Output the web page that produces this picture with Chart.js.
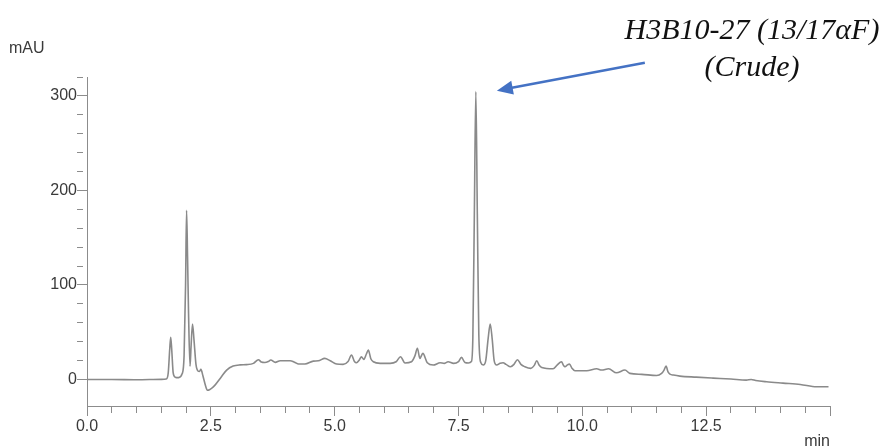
<!DOCTYPE html>
<html>
<head>
<meta charset="utf-8">
<title>H3B10-27 crude chromatogram</title>
<script src="https://cdn.jsdelivr.net/npm/chart.js@4/dist/chart.umd.min.js"></script>
<style>
  body { margin: 0; background: #fff; }
  #wrap { width: 889px; height: 448px; }
</style>
</head>
<body>
<div id="wrap"><canvas id="chrom" width="889" height="448"></canvas></div>
<script>
// retention time (min) and absorbance (mAU)
const retentionTime = [
  0.00, 0.50, 1.00, 1.50, 1.60, 1.64, 1.67, 1.69, 1.71, 1.74, 1.78, 1.85, 1.92,
  1.96, 1.99, 2.01, 2.03, 2.05, 2.08, 2.10, 2.13, 2.16, 2.20, 2.24, 2.27, 2.30,
  2.34, 2.39, 2.43, 2.55, 2.70, 2.82, 2.95, 3.09, 3.22, 3.36, 3.46, 3.52, 3.59,
  3.66, 3.71, 3.80, 3.90, 4.10, 4.20, 4.27, 4.40, 4.57, 4.67, 4.80, 4.91, 5.04,
  5.17, 5.27, 5.34, 5.40, 5.44, 5.50, 5.54, 5.59, 5.64, 5.68, 5.73, 5.78, 5.92,
  6.12, 6.24, 6.33, 6.42, 6.55, 6.62, 6.67, 6.72, 6.78, 6.87, 6.99, 7.13, 7.21,
  7.29, 7.40, 7.50, 7.56, 7.63, 7.70, 7.76, 7.79, 7.82, 7.85, 7.88, 7.91, 7.95,
  8.00, 8.05, 8.10, 8.14, 8.18, 8.22, 8.27, 8.34, 8.40, 8.46, 8.55, 8.62, 8.69,
  8.76, 8.84, 8.96, 9.03, 9.08, 9.13, 9.18, 9.41, 9.49, 9.58, 9.62, 9.65, 9.70,
  9.74, 9.79, 9.85, 10.09, 10.29, 10.39, 10.53, 10.69, 10.86, 10.96, 11.20, 11.50,
  11.60, 11.65, 11.69, 11.73, 11.77, 11.84, 11.97, 12.30, 12.64, 13.00, 13.31,
  13.41, 13.50, 13.72, 14.05, 14.40, 14.73, 14.97
];
const absorbance = [
  0, 0, -0.3, 0.2, 0.5, 7, 32, 44.7, 32, 7, 2.5, 2, 6,
  25, 100, 179, 130, 70, 14, 34, 58.8, 42, 16, 9, 8.5, 10.7,
  4, -6, -11.3, -7.7, 2, 10, 14.2, 15.5, 15.8, 17.1, 21, 18.5, 18,
  19, 20.6, 18.1, 19.9, 19.9, 18, 16.4, 16.4, 19.5, 19.8, 22.4, 19.9, 16.4,
  16, 19, 25.9, 19, 17.7, 21, 24.1, 21.3, 27, 31.2, 22, 18.8, 17.1,
  17.1, 18.8, 24.1, 17.5, 18.8, 25, 33, 22.4, 27.7, 17.7, 15.3, 17.7, 17.1,
  18.8, 17.1, 19, 23.4, 18, 17.5, 19, 45, 175, 304.5, 175, 48, 18,
  15.3, 20, 44, 58.8, 43, 20, 15.3, 17.1, 17.7, 16, 13.5, 16, 21,
  16, 13.5, 11.8, 15, 19.9, 15, 12.8, 11.4, 15.3, 18.8, 15, 13.5, 15.5,
  16.4, 12, 9.3, 9.3, 11.4, 10, 11.4, 7.1, 10, 6.5, 5.5, 4.3,
  6.5, 10, 14.2, 8, 5.7, 4.7, 3.6, 2.5, 1.5, 0.5, -0.6,
  0.1, -1, -2.4, -3.8, -5.2, -7.7, -7.7
];

const xLabelValues = [0, 2.5, 5, 7.5, 10, 12.5];
const yLabelValues = [0, 100, 200, 300];
const peakName = ["H3B10-27 (13/17\u03b1F)", "(Crude)"];

const points = retentionTime.map((t, i) => ({ x: t, y: absorbance[i] }));

const axisGray = "#8c8c8c";
const labelColor = "#3a3a3a";
const tickFont = { family: "'Liberation Sans', Arial, sans-serif", size: 16 };

const extras = {
  id: "extras",
  afterDraw(chart) {
    const ctx = chart.ctx;
    const area = chart.chartArea;
    const xs = chart.scales.x;
    const ys = chart.scales.y;
    ctx.save();

    // axis units
    ctx.fillStyle = labelColor;
    ctx.font = "16px 'Liberation Sans', Arial, sans-serif";
    ctx.textBaseline = "middle";
    ctx.textAlign = "left";
    ctx.fillText("mAU", 9, 49);
    ctx.textAlign = "right";
    ctx.fillText("min", area.right, 442);

    // arrow to the main peak
    let top = 0;
    absorbance.forEach((v, i) => { if (v > absorbance[top]) top = i; });
    const px = xs.getPixelForValue(retentionTime[top]);
    const py = ys.getPixelForValue(absorbance[top]);
    const tipX = px + 21, tipY = py - 1;
    const tailX = px + 169, tailY = py - 29;
    const dx = tipX - tailX, dy = tipY - tailY;
    const len = Math.hypot(dx, dy);
    const ux = dx / len, uy = dy / len;
    const headLen = 16, headHalf = 7;
    const bx = tipX - ux * headLen, by = tipY - uy * headLen;
    ctx.strokeStyle = "#4472c4";
    ctx.fillStyle = "#4472c4";
    ctx.lineWidth = 2.5;
    ctx.beginPath();
    ctx.moveTo(tailX, tailY);
    ctx.lineTo(bx + ux * 2, by + uy * 2);
    ctx.stroke();
    ctx.beginPath();
    ctx.moveTo(tipX, tipY);
    ctx.lineTo(bx - uy * headHalf, by + ux * headHalf);
    ctx.lineTo(bx + uy * headHalf, by - ux * headHalf);
    ctx.closePath();
    ctx.fill();

    // peak label
    ctx.fillStyle = "#111";
    ctx.font = "italic 30px 'Liberation Serif', 'Times New Roman', serif";
    ctx.textAlign = "center";
    ctx.textBaseline = "alphabetic";
    ctx.fillText(peakName[0], 752, 39);
    ctx.fillText(peakName[1], 752, 76);
    ctx.restore();
  }
};

const ctx = document.getElementById("chrom").getContext("2d");
new Chart(ctx, {
  type: "line",
  data: {
    datasets: [{
      label: "UV",
      data: points,
      borderColor: "#8a8a8a",
      borderWidth: 1.6,
      pointRadius: 0,
      fill: false,
      cubicInterpolationMode: "monotone"
    }]
  },
  options: {
    responsive: false,
    animation: false,
    layout: { padding: { top: 77, right: 59, left: 0, bottom: 0 } },
    plugins: { legend: { display: false }, tooltip: { enabled: false } },
    scales: {
      x: {
        type: "linear",
        min: 0,
        max: 15,
        afterFit: (s) => { s.height = 42; },
        afterBuildTicks: (s) => {
          s.ticks = s.ticks.filter((t) => Math.abs(t.value * 2 - Math.round(t.value * 2)) < 1e-6);
        },
        border: { display: true, color: axisGray, width: 1 },
        grid: {
          drawOnChartArea: false,
          color: axisGray,
          tickLength: 10,
          tickBorderDash: (c) => (c.tick && c.tick.value % 2.5 === 0 ? [] : [6, 40])
        },
        ticks: {
          stepSize: 0.5,
          autoSkip: false,
          maxRotation: 0,
          padding: 1,
          color: labelColor,
          font: tickFont,
          callback: (v) => (xLabelValues.includes(v) ? v.toFixed(1) : "")
        }
      },
      y: {
        min: -28,
        max: 320,
        afterFit: (s) => { s.width = 87; },
        afterBuildTicks: (s) => {
          s.ticks = s.ticks.filter((t) => t.value % 20 === 0);
        },
        border: { display: true, color: axisGray, width: 1 },
        grid: {
          drawOnChartArea: false,
          color: axisGray,
          tickLength: 10,
          tickBorderDash: (c) => (c.tick && yLabelValues.includes(c.tick.value) ? [] : [6, 40])
        },
        ticks: {
          stepSize: 20,
          autoSkip: false,
          padding: 0,
          color: labelColor,
          font: tickFont,
          callback: (v) => (yLabelValues.includes(v) ? v : "")
        }
      }
    }
  },
  plugins: [extras]
});
</script>
</body>
</html>
